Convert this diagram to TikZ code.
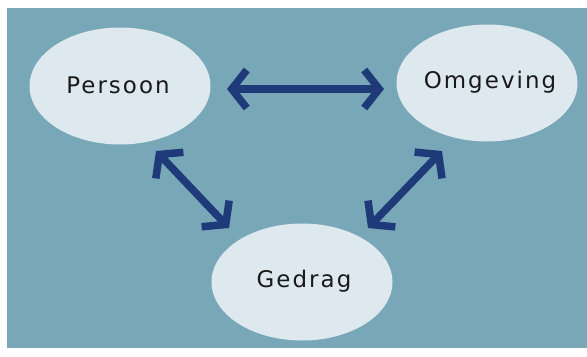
\documentclass[tikz,border=0pt]{standalone}
\usepackage{fontspec}
\setmainfont{DejaVu Sans}[LetterSpace=9]
\usetikzlibrary{arrows.meta,shapes.geometric}
\definecolor{bg}{RGB}{120,167,184}
\definecolor{ell}{RGB}{221,233,238}
\definecolor{arr}{RGB}{31,58,120}
\tikzset{
  blob/.style={ellipse, fill=ell, minimum width=181bp, minimum height=117bp, inner sep=0pt},
  lbl/.style={font=\fontsize{23}{27}\selectfont, text=black!90, inner sep=0pt},
  link/.style={draw=arr, line width=7.5bp, {Straight Barb[length=15bp,width=38bp]}-{Straight Barb[length=15bp,width=38bp]}}
}
\begin{document}
\begin{tikzpicture}[x=1bp,y=-1bp]
\useasboundingbox (0,0) rectangle (587,356);
\fill[white] (0,0) rectangle (587,356);
\fill[bg] (7,8) rectangle (587,348);
\node[blob] (p) at (120,86) {};
\node[blob] (o) at (487,83) {};
\node[blob] (g) at (302,282) {};
\node[lbl] (pt) at (118,85) {Persoon};
\node[lbl] (ot) at (490,82) {Omgeving};
\node[lbl] (gt) at (304,281) {Gedrag};
\coordinate (a1) at (227,89);
\coordinate (a2) at (384,89);
\coordinate (b1) at (156,151);
\coordinate (b2) at (229,228);
\coordinate (c1) at (442,151);
\coordinate (c2) at (368,228);
\draw[link] (a1) -- (a2);
\draw[link] (b1) -- (b2);
\draw[link] (c1) -- (c2);
\end{tikzpicture}
\end{document}
